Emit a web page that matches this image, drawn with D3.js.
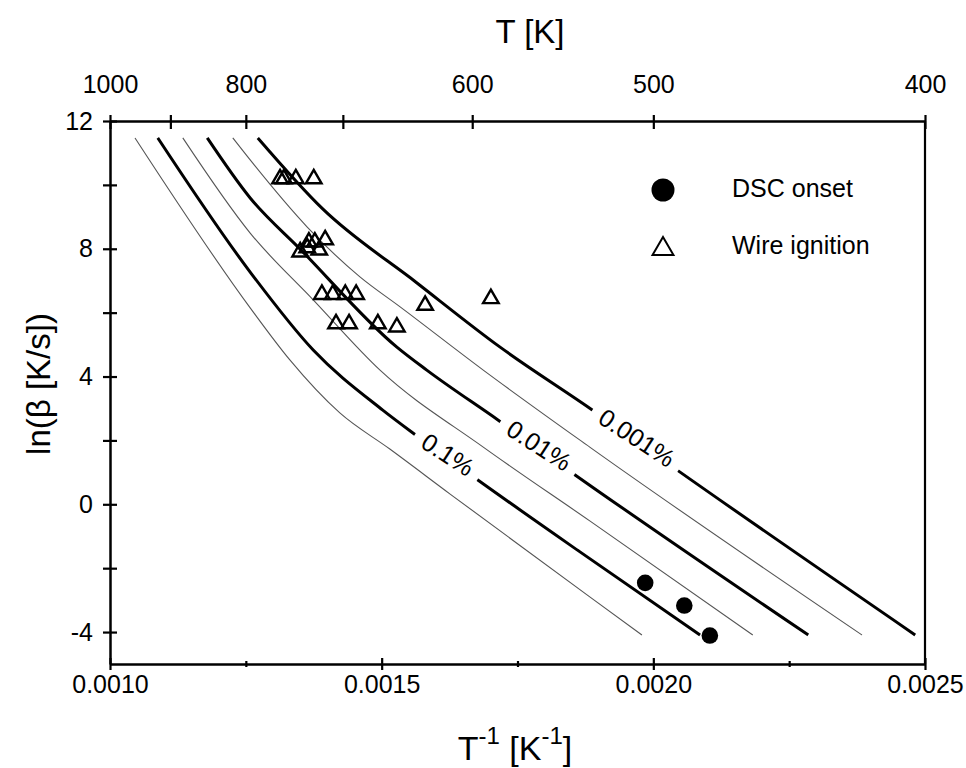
<!DOCTYPE html>
<html><head><meta charset="utf-8">
<script src="https://cdn.jsdelivr.net/npm/d3@7"></script>
<style>
body{margin:0;background:#fff}
text{font-family:"Liberation Sans",Arial,Helvetica,sans-serif;fill:#000}
</style>
</head><body>
<svg id="c" width="966" height="768"></svg>
<script>
// ---- data ----
const xMajorTicks = [0.0010, 0.0015, 0.0020, 0.0025];
const xMinorTicks = [0.00125, 0.00175, 0.00225];
const yMajorTicks = [-4, 0, 4, 8, 12];
const yMinorTicks = [-2, 2, 6, 10];
const tempLabelTicks = [1000, 800, 600, 500, 400];
const tempAllTicks = [1000, 900, 800, 700, 600, 500, 400];

// curves: [1/T, ln(beta)]
const curveThinA = [[0.001046,11.47],[0.001258,6.15],[0.001331,4.52],[0.001423,2.86],[0.001515,1.73],[0.001626,0.32],[0.001883,-2.90],[0.001979,-4.09]];
const curve0p1 = [[0.001088,11.47],[0.001258,7.27],[0.001374,4.83],[0.001502,2.95],[0.001565,2.14],[0.001677,0.76],[0.001865,-1.49],[0.002086,-4.09]];
const curveThinC = [[0.001134,11.47],[0.001258,8.49],[0.001374,6.40],[0.001497,4.20],[0.001687,1.79],[0.001883,-0.52],[0.002183,-4.09]];
const curve0p01 = [[0.001179,11.47],[0.001258,9.59],[0.001350,7.99],[0.001528,4.92],[0.001583,4.20],[0.001714,2.64],[0.001856,0.92],[0.002285,-4.09]];
const curveThinE = [[0.001226,11.47],[0.001258,10.78],[0.001363,8.68],[0.001460,7.12],[0.001534,6.18],[0.001687,4.20],[0.001883,1.79],[0.002384,-4.09]];
const curve0p001 = [[0.001272,11.47],[0.001392,9.24],[0.001565,6.93],[0.001718,4.92],[0.001883,3.01],[0.002044,1.07],[0.002482,-4.09]];

const curveLabels = ["0.1%", "0.01%", "0.001%"];
const curveLabelAt = [0.001622, 0.001790, 0.001970];

const wireInvT = [0.001313,0.001320,0.001342,0.001375,0.001350,0.001363,0.001366,0.001377,0.001385,0.001396,0.001390,0.001410,0.001433,0.001453,0.001416,0.001440,0.001493,0.001528,0.001580,0.001701];
const wireLnB  = [10.19,10.19,10.19,10.19,7.90,8.03,8.21,8.21,7.96,8.28,6.57,6.57,6.57,6.57,5.65,5.65,5.65,5.55,6.23,6.44];

const dscInvT = [0.001985,0.002057,0.002104];
const dscLnB  = [-2.46,-3.17,-4.11];

const legendNames = ["DSC onset", "Wire ignition"];

// ---- chart ----
const svg = d3.select("#c");
const x = d3.scaleLinear().domain([0.0010, 0.0025]).range([110, 925]);
const y = d3.scaleLinear().domain([-5, 12]).range([664, 121]);
const FONT = '"Liberation Sans",Arial,Helvetica,sans-serif';

const line = d3.line().x(d => x(d[0])).y(d => y(d[1])).curve(d3.curveMonotoneX);

const thin = [curveThinA, curveThinC, curveThinE];
const thick = [curve0p1, curve0p01, curve0p001];

svg.append("g").selectAll("path").data(thin).join("path")
  .attr("d", line).attr("fill", "none").attr("stroke", "#555").attr("stroke-width", 1.1);
svg.append("g").selectAll("path").data(thick).join("path")
  .attr("d", line).attr("fill", "none").attr("stroke", "#000").attr("stroke-width", 3);

// curve labels with white gap
function interpY(curve, xv) {
  for (let i = 0; i < curve.length - 1; i++) {
    const a = curve[i], b = curve[i + 1];
    if (xv >= a[0] && xv <= b[0]) {
      const t = (xv - a[0]) / (b[0] - a[0]);
      return a[1] + t * (b[1] - a[1]);
    }
  }
  return curve[curve.length - 1][1];
}
thick.forEach((c, i) => {
  const xv = curveLabelAt[i];
  const px = x(xv), py = y(interpY(c, xv));
  const ang = 33;
  const g = svg.append("g").attr("transform", `translate(${px},${py - 4}) rotate(${ang})`);
  const rect = g.append("rect").attr("fill", "#fff");
  const t = g.append("text").text(curveLabels[i]).attr("text-anchor", "middle")
    .attr("dy", "0.36em").attr("font-size", 25).attr("font-family", FONT);
  const w = t.node().getComputedTextLength();
  rect.attr("x", -w / 2 - 10).attr("width", w + 20).attr("y", -9).attr("height", 20);
});

// ---- axes ----
const axisW = 2.5;
const fmtX = d3.format(".4f");
const gB = svg.append("g").attr("transform", "translate(0,664)")
  .call(d3.axisBottom(x).tickValues(xMajorTicks.concat(xMinorTicks))
    .tickFormat(d => xMajorTicks.includes(d) ? fmtX(d) : "")
    .tickSizeInner(6).tickSizeOuter(0).tickPadding(5));
gB.selectAll(".tick line").attr("y1", d => xMajorTicks.includes(d) ? -6 : -3)
  .attr("y2", d => xMajorTicks.includes(d) ? 6 : 3);

const gL = svg.append("g").attr("transform", "translate(110,0)")
  .call(d3.axisLeft(y).tickValues(yMajorTicks.concat(yMinorTicks))
    .tickFormat(d => yMajorTicks.includes(d) ? String(d) : "")
    .tickSizeInner(6).tickSizeOuter(0).tickPadding(11));
gL.selectAll(".tick line").attr("x1", 7).attr("x2", -7);

const gT = svg.append("g").attr("transform", "translate(0,121)")
  .call(d3.axisTop(x).tickValues(tempAllTicks.map(t => 1 / t))
    .tickFormat(d => { const t = Math.round(1 / d); return tempLabelTicks.includes(t) ? String(t) : ""; })
    .tickSizeInner(6).tickSizeOuter(0).tickPadding(22));
gT.selectAll(".tick line").attr("y1", 8).attr("y2", -6);

[gB, gL, gT].forEach(g => {
  g.attr("font-size", 25).attr("font-family", FONT);
  g.select(".domain").attr("stroke", "#000").attr("stroke-width", axisW);
  g.selectAll(".tick line").attr("stroke", "#000").attr("stroke-width", 2.2);
  g.selectAll(".tick text").attr("fill", "#000");
});
svg.append("line").attr("x1", 925).attr("x2", 925).attr("y1", y(12)).attr("y2", y(-5))
  .attr("stroke", "#000").attr("stroke-width", 2.2);

// ---- titles ----
svg.append("text").attr("x", 530).attr("y", 43).attr("text-anchor", "middle")
  .attr("font-size", 33).attr("font-family", FONT).text("T [K]");

svg.append("text").attr("transform", "translate(50,384) rotate(-90)").attr("text-anchor", "middle")
  .attr("font-size", 33).attr("font-family", FONT).text("ln(β [K/s])");

const bt = svg.append("text").attr("x", 515).attr("y", 760).attr("text-anchor", "middle")
  .attr("font-size", 34).attr("font-family", FONT);
bt.append("tspan").text("T");
bt.append("tspan").attr("font-size", 24).attr("dy", -16).text("-1");
bt.append("tspan").attr("dy", 16).text(" [K");
bt.append("tspan").attr("font-size", 24).attr("dy", -16).text("-1");
bt.append("tspan").attr("dy", 16).text("]");

// ---- data points ----
const tri = d3.symbol().type(d3.symbolTriangle);
svg.append("g").selectAll("path").data(wireInvT.map((v, i) => [v, wireLnB[i]])).join("path")
  .attr("transform", d => `translate(${x(d[0])},${y(d[1])})`)
  .attr("d", tri.size(105)())
  .attr("fill", "none").attr("stroke", "#000").attr("stroke-width", 2.4);

svg.append("g").selectAll("circle").data(dscInvT.map((v, i) => [v, dscLnB[i]])).join("circle")
  .attr("cx", d => x(d[0])).attr("cy", d => y(d[1])).attr("r", 8.3).attr("fill", "#000");

// ---- legend ----
const lg = svg.append("g");
lg.append("circle").attr("cx", 663).attr("cy", 190).attr("r", 11.5).attr("fill", "#000");
lg.append("path").attr("transform", "translate(663,249)")
  .attr("d", d3.symbol().type(d3.symbolTriangle).size(190)())
  .attr("fill", "none").attr("stroke", "#000").attr("stroke-width", 2);
lg.append("text").attr("x", 732).attr("y", 197).attr("font-size", 25).attr("font-family", FONT).text(legendNames[0]);
lg.append("text").attr("x", 732).attr("y", 254).attr("font-size", 25).attr("font-family", FONT).text(legendNames[1]);
</script>
</body></html>
